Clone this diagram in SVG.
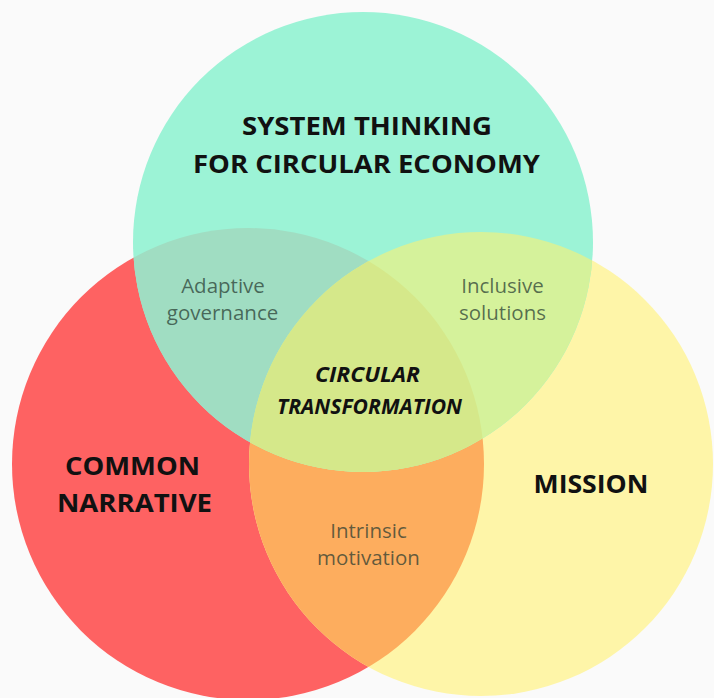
<svg xmlns="http://www.w3.org/2000/svg" width="714" height="698" viewBox="0 0 714 698">
  <style>
    .title { font-family: "Open Sans", "Liberation Sans", sans-serif; font-weight: 700; font-size: 25px; fill: #111; text-anchor: middle; }
    .core { font-family: "Open Sans", "Liberation Sans", sans-serif; font-weight: 700; font-style: italic; font-size: 21.5px; fill: #111; text-anchor: middle; }
    .sub { font-family: "Open Sans", "Liberation Sans", sans-serif; font-weight: 400; font-size: 20.5px; fill: #263a30; fill-opacity: 0.72; text-anchor: middle; }
  </style>
  <defs>
    <!-- circle geometry shared by fills and clips -->
    <circle id="cTop" cx="363" cy="242" r="230"/>
    <circle id="cLeft" cx="248" cy="464" r="236"/>
    <circle id="cRight" cx="481" cy="464" r="232"/>
    <clipPath id="clipLeft"><use href="#cLeft"/></clipPath>
    <clipPath id="clipRight"><use href="#cRight"/></clipPath>
  </defs>

  <rect width="714" height="698" fill="#fafafa"/>

  <!-- base circles -->
  <g id="narrative">
    <use href="#cLeft" fill="#fe6262"/>
  </g>
  <g id="mission">
    <use href="#cRight" fill="#fef5a8"/>
  </g>
  <g id="system-thinking">
    <use href="#cTop" fill="#9cf3d6"/>
  </g>

  <!-- pairwise and triple overlaps -->
  <g id="overlaps">
    <use href="#cRight" fill="#fdad5e" clip-path="url(#clipLeft)"/>
    <use href="#cTop" fill="#a0ddc2" clip-path="url(#clipLeft)"/>
    <use href="#cTop" fill="#d5f29b" clip-path="url(#clipRight)"/>
    <g clip-path="url(#clipLeft)">
      <use href="#cTop" fill="#d5e88a" clip-path="url(#clipRight)"/>
    </g>
  </g>

  <!-- labels -->
  <g id="label-system">
    <text class="title" x="367" y="135" textLength="250" lengthAdjust="spacingAndGlyphs">SYSTEM THINKING</text>
    <text class="title" x="366.5" y="173" textLength="347" lengthAdjust="spacingAndGlyphs">FOR CIRCULAR ECONOMY</text>
  </g>
  <g id="label-narrative">
    <text class="title" x="132.5" y="475" textLength="135" lengthAdjust="spacingAndGlyphs">COMMON</text>
    <text class="title" x="134.5" y="512" textLength="155" lengthAdjust="spacingAndGlyphs">NARRATIVE</text>
  </g>
  <g id="label-mission">
    <text class="title" x="591" y="493" textLength="115" lengthAdjust="spacingAndGlyphs">MISSION</text>
  </g>
  <g id="label-adaptive">
    <text class="sub" x="223" y="293">Adaptive</text>
    <text class="sub" x="222.5" y="320">governance</text>
  </g>
  <g id="label-inclusive">
    <text class="sub" x="502.5" y="293">Inclusive</text>
    <text class="sub" x="502.5" y="320">solutions</text>
  </g>
  <g id="label-intrinsic">
    <text class="sub" x="368.5" y="538">Intrinsic</text>
    <text class="sub" x="368.5" y="565">motivation</text>
  </g>
  <g id="label-core">
    <text class="core" x="367.5" y="382" textLength="105" lengthAdjust="spacingAndGlyphs">CIRCULAR</text>
    <text class="core" x="369.5" y="414" textLength="185" lengthAdjust="spacingAndGlyphs">TRANSFORMATION</text>
  </g>
</svg>
